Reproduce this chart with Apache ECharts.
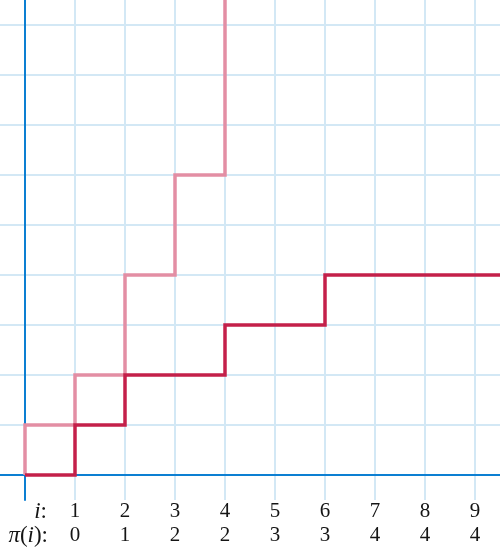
<!DOCTYPE html>
<html>
<head>
<meta charset="utf-8">
<script src="https://cdn.jsdelivr.net/npm/echarts@6/dist/echarts.min.js"></script>
<style>
html,body{margin:0;padding:0;background:#fff;}
#chart{width:500px;height:550px;}
</style>
</head>
<body>
<div id="chart"></div>
<script>
// Table below the axis
const iValues = [1, 2, 3, 4, 5, 6, 7, 8, 9];
const piValues = [0, 1, 2, 2, 3, 3, 4, 4, 4];
// Red step: (n, π(n)) for n = 0..10 (the last point runs past the right edge)
const redX = [0, 1, 2, 3, 4, 5, 6, 7, 8, 9, 10];
const redY = [0, 0, 1, 2, 2, 3, 3, 4, 4, 4, 4];
// Pink step (mirror of the red one): vertical risers at x = 0..4
const pinkX = [0, 1, 2, 3, 4, 5];
const pinkY = [0, 1, 2, 4, 6, 10];
// Grid line positions
const gridTicks = [1, 2, 3, 4, 5, 6, 7, 8, 9];

const serif = '"Liberation Serif", "Times New Roman", "DejaVu Serif", serif';
const textColor = '#151515';
const axisBlue = '#0c7fd2';
const gridBlue = '#d3e8f5';
const FS = 21;
const HFS = 23;

const chart = echarts.init(document.getElementById('chart'), null, {renderer: 'canvas'});

chart.setOption({
  animation: false,
  backgroundColor: '#ffffff',
  grid: {left: 0, top: 0, width: 500, height: 500, containLabel: false, outerBoundsMode: 'none'},
  xAxis: {
    type: 'value', min: -0.5, max: 9.5,
    axisLine: {show: true, onZero: true, lineStyle: {color: axisBlue, width: 2}},
    axisTick: {show: false},
    splitLine: {show: false},
    axisLabel: {
      show: true,
      customValues: iValues,
      margin: 0,
      verticalAlign: 'top',
      color: textColor,
      fontFamily: serif,
      fontSize: FS,
      lineHeight: 23.5,
      formatter: function (v) {
        const k = iValues.indexOf(v);
        if (k < 0) return '';
        return iValues[k] + '\n' + piValues[k];
      }
    }
  },
  yAxis: {
    type: 'value', min: -0.5, max: 9.5,
    axisLine: {show: true, onZero: true, lineStyle: {color: axisBlue, width: 2}},
    axisTick: {show: false},
    splitLine: {show: false},
    axisLabel: {show: false}
  },
  graphic: [
    {
      type: 'text', x: 47, y: 512, z: 10,
      style: {
        text: '{it|i}{n|:}',
        align: 'right', verticalAlign: 'middle',
        fill: textColor,
        font: HFS + 'px ' + serif,
        rich: {
          it: {fontStyle: 'italic', fontFamily: serif, fontSize: HFS, fill: textColor},
          n: {fontFamily: serif, fontSize: HFS, fill: textColor}
        }
      }
    },
    {
      type: 'text', x: 48, y: 535.5, z: 10,
      style: {
        text: '{it|π}{n|(}{it|i}{n|):}',
        align: 'right', verticalAlign: 'middle',
        fill: textColor,
        font: HFS + 'px ' + serif,
        rich: {
          it: {fontStyle: 'italic', fontFamily: serif, fontSize: HFS, fill: textColor},
          n: {fontFamily: serif, fontSize: HFS, fill: textColor}
        }
      }
    }
  ],
  series: [
    {
      type: 'custom',
      z: -1,
      silent: true,
      data: gridTicks,
      renderItem: function (params, api) {
        const v = api.value(0);
        const p = api.coord([v, v]);
        const cs = params.coordSys;
        return {
          type: 'group',
          children: [
            {type: 'line', shape: {x1: p[0], y1: cs.y, x2: p[0], y2: cs.y + cs.height},
             style: {stroke: gridBlue, lineWidth: 2}},
            {type: 'line', shape: {x1: cs.x, y1: p[1], x2: cs.x + cs.width, y2: p[1]},
             style: {stroke: gridBlue, lineWidth: 2}}
          ]
        };
      }
    },
    {
      type: 'line',
      z: 3,
      step: 'start',
      showSymbol: false,
      symbol: 'none',
      silent: true,
      data: pinkX.map((x, k) => [x, pinkY[k]]),
      lineStyle: {color: '#e38ea4', width: 3.5, join: 'miter', cap: 'butt'}
    },
    {
      type: 'line',
      z: 4,
      step: 'start',
      showSymbol: false,
      symbol: 'none',
      silent: true,
      data: redX.map((x, k) => [x, redY[k]]),
      lineStyle: {color: '#c4204a', width: 3.5, join: 'miter', cap: 'butt'}
    }
  ]
});
</script>
</body>
</html>
